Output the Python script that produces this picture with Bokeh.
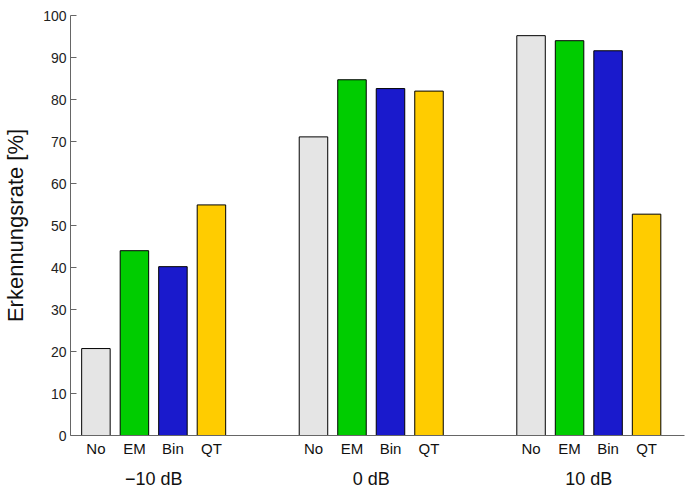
from bokeh.plotting import figure
from bokeh.models import ColumnDataSource, FixedTicker, LinearAxis, Range1d
from bokeh.embed import file_html
from bokeh.resources import INLINE

# ---- data ----
groups = ["\u221210 dB", "0 dB", "10 dB"]
methods = ["No", "EM", "Bin", "QT"]
no_vals = [20.7, 71.1, 95.2]
em_vals = [44.0, 84.7, 94.0]
bin_vals = [40.2, 82.6, 91.6]
qt_vals = [54.9, 82.0, 52.7]
y_ticks = [0, 10, 20, 30, 40, 50, 60, 70, 80, 90, 100]

# ---- styles / layout ----
colors = ["#e5e5e5", "#00cc00", "#1a1acc", "#ffcc00"]
PITCH = 20
GROUP_STEP = 113
BAR_W = 14.8
FONT = "Liberation Sans"

series = [no_vals, em_vals, bin_vals, qt_vals]
xs, tops, cols, sub_labels = [], [], [], {}
group_centers, group_labels = [], {}
for g, gname in enumerate(groups):
    for i, m in enumerate(methods):
        x = g * GROUP_STEP + i * PITCH
        xs.append(x)
        tops.append(series[i][g])
        cols.append(colors[i])
        sub_labels[x] = m
    c = g * GROUP_STEP + 1.5 * PITCH
    group_centers.append(c)
    group_labels[c] = gname

src = ColumnDataSource(dict(x=xs, top=tops, color=cols))

p = figure(width=694, height=491,
           x_range=Range1d(-13.2, 305.7), y_range=Range1d(0, 100),
           output_backend="svg", toolbar_location=None,
           min_border_left=70, min_border_right=10, min_border_top=15,
           min_border_bottom=10)

p.vbar(x="x", top="top", bottom=0, width=BAR_W, fill_color="color",
       line_color="#000000", line_width=1, source=src)

p.outline_line_color = None
p.xgrid.visible = False
p.ygrid.visible = False
p.background_fill_color = "white"
p.border_fill_color = "white"

# y axis
ya = p.yaxis[0]
ya.ticker = FixedTicker(ticks=y_ticks)
ya.axis_label = "Erkennungsrate [%]"
ya.axis_label_text_font = FONT
ya.axis_label_text_font_size = "22px"
ya.axis_label_text_font_style = "normal"
ya.axis_label_text_color = "#111111"
ya.axis_label_standoff = 12
ya.major_label_text_font = FONT
ya.major_label_text_font_size = "14px"
ya.major_label_text_color = "#222222"
ya.major_label_standoff = 4
ya.major_tick_in = 6
ya.major_tick_out = 0
ya.minor_tick_line_color = None
ya.axis_line_color = "#666666"
ya.major_tick_line_color = "#666666"

# x axis (method labels)
xa = p.xaxis[0]
xa.ticker = FixedTicker(ticks=xs)
xa.major_label_overrides = sub_labels
xa.major_label_text_font = FONT
xa.major_label_text_font_size = "15px"
xa.major_label_text_color = "#111111"
xa.major_label_standoff = 4
xa.major_tick_line_color = None
xa.minor_tick_line_color = None
xa.major_tick_in = 0
xa.major_tick_out = 0
xa.axis_line_color = "#666666"

# second x axis (group labels)
ga = LinearAxis(ticker=FixedTicker(ticks=group_centers),
                major_label_overrides=group_labels)
ga.major_label_text_font = FONT
ga.major_label_text_font_size = "18px"
ga.major_label_text_color = "#111111"
ga.major_label_standoff = 9
ga.major_tick_line_color = None
ga.minor_tick_line_color = None
ga.major_tick_in = 0
ga.major_tick_out = 0
ga.axis_line_color = None
p.add_layout(ga, "below")

open("out.html", "w").write(file_html(p, INLINE))
